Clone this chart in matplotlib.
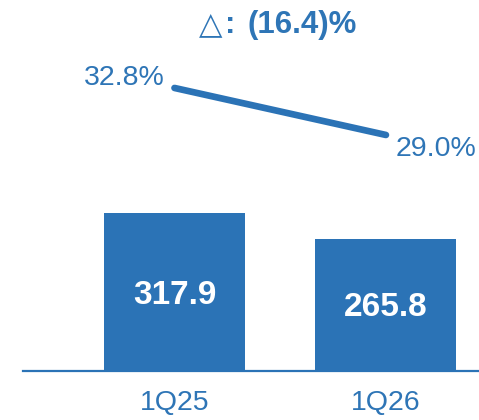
import matplotlib
matplotlib.use("Agg")
import matplotlib.pyplot as plt

categories = ["1Q25", "1Q26"]
bar_values = [317.9, 265.8]
margin_pct = [32.8, 29.0]
delta_label = "(16.4)%"

BLUE = "#2B73B6"
TXT = "#2E75B6"
plt.rcParams['font.family'] = ['Liberation Sans', 'DejaVu Sans']

fig = plt.figure(figsize=(4.79, 4.20), dpi=100)
ax = fig.add_axes([0, 0, 1, 1])
x = list(range(len(categories)))
ax.bar(x, bar_values, width=0.667, color=BLUE, zorder=2)
ax.set_xlim(-0.825, 1.44)
ax.set_ylim(-98.6, 746.5)
ax.axhline(0, xmin=0.048, xmax=1, color=BLUE, lw=1.6, zorder=3)
ax.axis("off")

for i, v in enumerate(bar_values):
    ax.annotate(f"{v:.1f}", xy=(i, v / 2), xytext=(0, -3), textcoords="offset pixels",
                ha="center", va="center", color="white", fontsize=24, fontweight="bold")
    ax.annotate(categories[i], xy=(i, 0), xytext=(0, -32), textcoords="offset pixels",
                ha="center", va="center", color=TXT, fontsize=20.5)

ax2 = ax.twinx()
ax2.set_position([0, 0, 1, 1])
ax2.set_ylim(5.96, 39.91)
ax2.plot(x, margin_pct, color=BLUE, lw=4.8, solid_capstyle="round")
ax2.axis("off")
ax2.annotate(f"{margin_pct[0]:.1f}%", xy=(0, margin_pct[0]), xytext=(-10, 10),
             textcoords="offset pixels", ha="right", va="center", color=TXT, fontsize=20.5)
ax2.annotate(f"{margin_pct[1]:.1f}%", xy=(1, margin_pct[1]), xytext=(10, -14),
             textcoords="offset pixels", ha="left", va="center", color=TXT, fontsize=20.5)

base_y = 1 - 33 / 420
fig.text(199 / 479, base_y, "△", ha="left", va="baseline",
         color=TXT, fontsize=22, family="DejaVu Sans")
fig.text(225 / 479, base_y, ":", ha="left", va="baseline",
         color=TXT, fontsize=22.5, fontweight="bold")
fig.text(357 / 479, base_y, delta_label, ha="right", va="baseline",
         color=TXT, fontsize=22.5, fontweight="bold")

fig.savefig("out.png", dpi=100)
